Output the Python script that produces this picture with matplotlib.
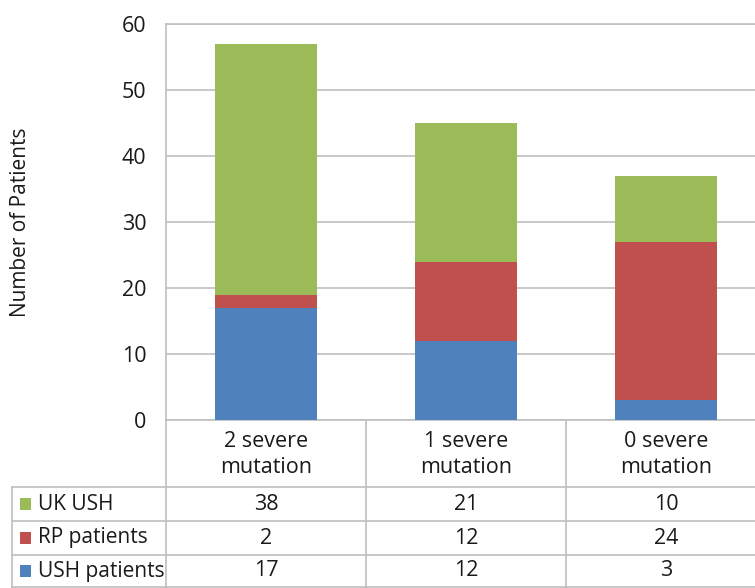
import matplotlib
matplotlib.use("Agg")
import matplotlib.pyplot as plt
from matplotlib.lines import Line2D
from matplotlib.patches import Rectangle

categories = ["2 severe\nmutation", "1 severe\nmutation", "0 severe\nmutation"]
ush_patients = [17, 12, 3]
rp_patients = [2, 12, 24]
uk_ush = [38, 21, 10]
yticks = [0, 10, 20, 30, 40, 50, 60]

series = [
    ("USH patients", ush_patients, "#4F81BD"),
    ("RP patients", rp_patients, "#C0504D"),
    ("UK USH", uk_ush, "#9BBB59"),
]

W, H = 755, 588
plt.rcParams["font.family"] = ["Open Sans", "DejaVu Sans"]
fig = plt.figure(figsize=(W / 100, H / 100), dpi=100)


def fx(px):
    return px / W


def fy(py):
    return 1 - py / H


grid_col = "#BFBFBF"
text_col = "#1a1a1a"

# plot area (runs slightly past the right edge of the canvas)
left, right, top, bottom = 166, 766, 24, 420
ax = fig.add_axes([fx(left), fy(bottom), fx(right) - fx(left), fy(top) - fy(bottom)])
ax.set_xlim(-0.5, 2.5)
ax.set_ylim(0, 60)
ax.set_yticks(yticks)
ax.set_yticklabels([str(t) for t in yticks], fontsize=15.5, color=text_col)
ax.set_xticks([])
ax.tick_params(axis="y", length=0, pad=14)
ax.yaxis.grid(True, color=grid_col, linewidth=1.2)
ax.set_axisbelow(True)
for name, sp in ax.spines.items():
    sp.set_color(grid_col)
    sp.set_linewidth(1.2)
ax.spines["right"].set_visible(False)

xs = list(range(len(categories)))
base = [0] * len(categories)
for name, vals, col in series:
    ax.bar(xs, vals, bottom=base, width=0.51, color=col, edgecolor="none", zorder=3)
    base = [b + v for b, v in zip(base, vals)]

fig.text(fx(21), fy((top + bottom) / 2), "Number of Patients", rotation=90,
         ha="center", va="center", fontsize=15, color=text_col)

# data table beneath the axis
col_edges = [166, 366, 566, 766]
row_edges = [420, 487, 521, 555, 587]
tbl_left = 12


def hline(y, x0, x1):
    fig.add_artist(Line2D([fx(x0), fx(x1)], [fy(y), fy(y)], color=grid_col,
                          linewidth=1.2, transform=fig.transFigure))


def vline(x, y0, y1):
    fig.add_artist(Line2D([fx(x), fx(x)], [fy(y0), fy(y1)], color=grid_col,
                          linewidth=1.2, transform=fig.transFigure))


for y in row_edges[1:]:
    hline(y, tbl_left, W)
for x in col_edges[:-1]:
    vline(x, row_edges[0], row_edges[-1])
vline(tbl_left, row_edges[1], row_edges[-1])

centers = [(col_edges[i] + col_edges[i + 1]) / 2 for i in range(3)]
for cx, lab in zip(centers, categories):
    fig.text(fx(cx), fy((row_edges[0] + row_edges[1]) / 2 + 1), lab, ha="center",
             va="center", fontsize=15.5, color=text_col, linespacing=1.35)

for r, (name, vals, col) in enumerate(reversed(series)):
    y0, y1 = row_edges[r + 1], row_edges[r + 2]
    cy = (y0 + y1) / 2
    fig.add_artist(Rectangle((fx(20), fy(cy + 6)), fx(11), fy(0) - fy(12),
                             facecolor=col, edgecolor="none",
                             transform=fig.transFigure))
    fig.text(fx(38), fy(cy), name, ha="left", va="center", fontsize=15,
             color=text_col)
    for cx, v in zip(centers, vals):
        fig.text(fx(cx), fy(cy), str(v), ha="center", va="center",
                 fontsize=15.5, color=text_col)

fig.savefig("out.png", dpi=100)
